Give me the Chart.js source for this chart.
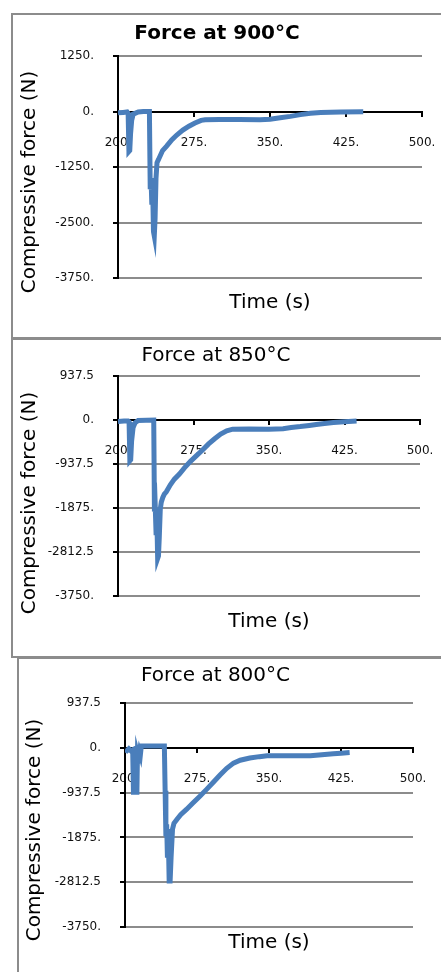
<!DOCTYPE html>
<html lang="en">
<head>
<meta charset="UTF-8">
<title>Compressive force</title>
<script src="https://cdn.jsdelivr.net/npm/chart.js"></script>
<style>
    body { margin: 0; width: 441px; height: 972px; overflow: hidden; background: #fff; position: relative; }
    .caixa { position: absolute; border: 2px solid #8c8c8c; box-sizing: border-box; }
    canvas { position: absolute; }
</style>
</head>
<body>
    <div class="caixa" style="left:11px; top:13px; width:500px; height:327px;"></div>
    <div class="caixa" style="left:11px; top:337px; width:500px; height:321px;"></div>
    <div class="caixa" style="left:17px; top:657px; width:500px; height:400px;"></div>

    <canvas id="grafico900" width="456" height="324" style="left:12px; top:14px;"></canvas>
    <canvas id="grafico850" width="456" height="319" style="left:12px; top:339px;"></canvas>
    <canvas id="grafico800" width="442" height="313" style="left:18px; top:659px;"></canvas>

<script>
    // eixo x (igual nos tres)
    const ticksX = [200, 275, 350, 425, 500];
    const labelsX = ['200.', '275.', '350.', '425.', '500.'];

    // eixo y
    const ticksY900 = [-3750, -2500, -1250, 0, 1250];
    const labelsY900 = ['-3750.', '-2500.', '-1250.', '0.', '1250.'];
    const ticksY850 = [-3750, -2812.5, -1875, -937.5, 0, 937.5];
    const labelsY850 = ['-3750.', '-2812.5', '-1875.', '-937.5', '0.', '937.5'];
    const ticksY800 = [-3750, -2812.5, -1875, -937.5, 0, 937.5];
    const labelsY800 = ['-3750.', '-2812.5', '-1875.', '-937.5', '0.', '937.5'];

    // series (tempo em s, forca em N)
    const time900 = [200, 205, 209, 210, 210.8, 211.6, 212.4, 213.5, 215, 220, 225, 231, 231.8, 232.6, 233.4, 234.2, 235, 235.8, 236.6, 237.5, 238.5, 240, 244, 248, 253, 258, 264, 270, 276, 282, 286, 300, 320, 340, 350, 360, 370, 380, 390, 400, 420, 442];
    const force900 = [-30, -20, -10, -40, -900, -880, -500, -200, -60, -10, 0, 0, -1750, -1500, -2100, -1700, -2700, -2800, -2400, -1500, -1150, -1080, -880, -780, -640, -530, -420, -330, -260, -200, -185, -180, -180, -185, -175, -140, -110, -70, -40, -20, -10, -5];

    const time850 = [200, 206, 210, 211, 211.8, 212.6, 213.5, 215, 217, 220, 235.5, 236.2, 237, 237.8, 238.6, 239.4, 240.2, 241, 242, 243, 244.5, 246, 248, 252, 256, 261, 266, 272, 278, 284, 290, 296, 302, 308, 314, 330, 350, 364, 372, 381, 390, 397, 405, 414, 425, 437];
    const force850 = [-30, -20, -20, -40, -870, -850, -450, -160, -60, -10, 0, -1950, -1850, -2400, -2100, -2950, -2900, -2500, -1900, -1750, -1650, -1580, -1530, -1380, -1260, -1150, -1020, -880, -760, -640, -510, -400, -300, -230, -195, -190, -195, -185, -160, -140, -115, -95, -75, -55, -35, -20];

    const time800 = [200, 202, 204, 206, 208, 208.8, 212.4, 213, 214, 215, 216, 217, 225, 241, 241.8, 242.6, 243.4, 244.2, 245, 246, 247, 248, 249.5, 251, 254, 258, 264, 271, 278, 285, 292, 299, 306, 313, 320, 330, 340, 348, 370, 393, 405, 417, 425, 434];
    const force800 = [-40, -60, -20, -60, -40, -930, -930, -120, -200, -80, -150, 40, 40, 40, -900, -1850, -1600, -2300, -1700, -2790, -2790, -2300, -1700, -1580, -1500, -1400, -1290, -1150, -1015, -870, -720, -570, -430, -320, -260, -215, -185, -167, -167, -165, -145, -125, -112, -98];

    Chart.defaults.font.family = "'DejaVu Sans', Verdana, sans-serif";
    Chart.defaults.color = '#000';

    // titulo do eixo y desenhado na posicao certa (rotacionado)
    const tituloY = {
        id: 'tituloY',
        afterDraw(chart, args, opts) {
            const ctx = chart.ctx;
            ctx.save();
            ctx.translate(opts.x, opts.y);
            ctx.rotate(-Math.PI / 2);
            ctx.font = "20px 'DejaVu Sans', Verdana, sans-serif";
            ctx.fillStyle = '#000';
            ctx.textAlign = 'center';
            ctx.textBaseline = 'middle';
            ctx.fillText(opts.text, 0, 0);
            ctx.restore();
        }
    };

    function gerarGrafico(id, tempo, forca, ticksY, labelsY, cfg) {
        const pontos = tempo.map((t, i) => ({ x: t, y: forca[i] }));

        return new Chart(document.getElementById(id), {
            type: 'line',
            data: {
                datasets: [{
                    data: pontos,
                    borderColor: '#4a7ebb',
                    borderWidth: 5,
                    pointRadius: 0,
                    tension: 0
                }]
            },
            options: {
                responsive: false,
                animation: false,
                devicePixelRatio: 1,
                layout: { padding: { left: 0, right: cfg.direita, top: 0, bottom: 0 } },
                plugins: {
                    legend: { display: false },
                    tooltip: { enabled: false },
                    title: {
                        display: true,
                        text: cfg.titulo,
                        font: { size: 20, weight: cfg.negrito ? 'bold' : 'normal' },
                        color: '#000',
                        padding: { top: cfg.tituloTop, bottom: cfg.tituloBottom }
                    },
                    subtitle: {
                        display: true,
                        position: 'bottom',
                        fullSize: false,
                        text: 'Time (s)',
                        font: { size: 20 },
                        color: '#000',
                        padding: { top: cfg.subTop, bottom: cfg.subBottom }
                    },
                    tituloY: { text: 'Compressive force (N)', x: cfg.yx, y: cfg.yy }
                },
                scales: {
                    x: {
                        type: 'linear',
                        position: { y: 0 },
                        min: 200,
                        max: 500,
                        afterBuildTicks: s => { s.ticks = ticksX.map(v => ({ value: v })); },
                        ticks: {
                            callback: v => labelsX[ticksX.indexOf(v)],
                            font: { size: 12 },
                            color: '#111',
                            padding: 20,
                            maxRotation: 0
                        },
                        grid: { drawOnChartArea: false, tickColor: '#000', tickLength: 4, lineWidth: 2 },
                        border: { color: '#000', width: 2 }
                    },
                    y: {
                        min: ticksY[0],
                        max: ticksY[ticksY.length - 1],
                        afterBuildTicks: s => { s.ticks = ticksY.map(v => ({ value: v })); },
                        afterFit: s => { s.width = cfg.larguraY; },
                        ticks: {
                            callback: v => labelsY[ticksY.indexOf(v)],
                            font: { size: 12 },
                            color: '#111',
                            padding: 19
                        },
                        grid: {
                            color: c => (c.tick && c.tick.value === 0) ? 'rgba(0,0,0,0)' : '#8c8c8c',
                            tickColor: '#000',
                            tickLength: 5,
                            lineWidth: 2
                        },
                        border: { color: '#000', width: 2 }
                    }
                }
            },
            plugins: [tituloY]
        });
    }

    gerarGrafico('grafico900', time900, force900, ticksY900, labelsY900, {
        titulo: 'Force at 900°C', negrito: true, direita: 46, larguraY: 106,
        tituloTop: 8, tituloBottom: 10, subTop: 13, subBottom: 23, yx: 18, yy: 168
    });
    gerarGrafico('grafico850', time850, force850, ticksY850, labelsY850, {
        titulo: 'Force at 850°C', negrito: false, direita: 48, larguraY: 106,
        tituloTop: 5, tituloBottom: 8, subTop: 14, subBottom: 24, yx: 18, yy: 164
    });
    gerarGrafico('grafico800', time800, force800, ticksY800, labelsY800, {
        titulo: 'Force at 800°C', negrito: false, direita: 47, larguraY: 107,
        tituloTop: 5, tituloBottom: 15, subTop: 4, subBottom: 17, yx: 17, yy: 171
    });
</script>
</body>
</html>
